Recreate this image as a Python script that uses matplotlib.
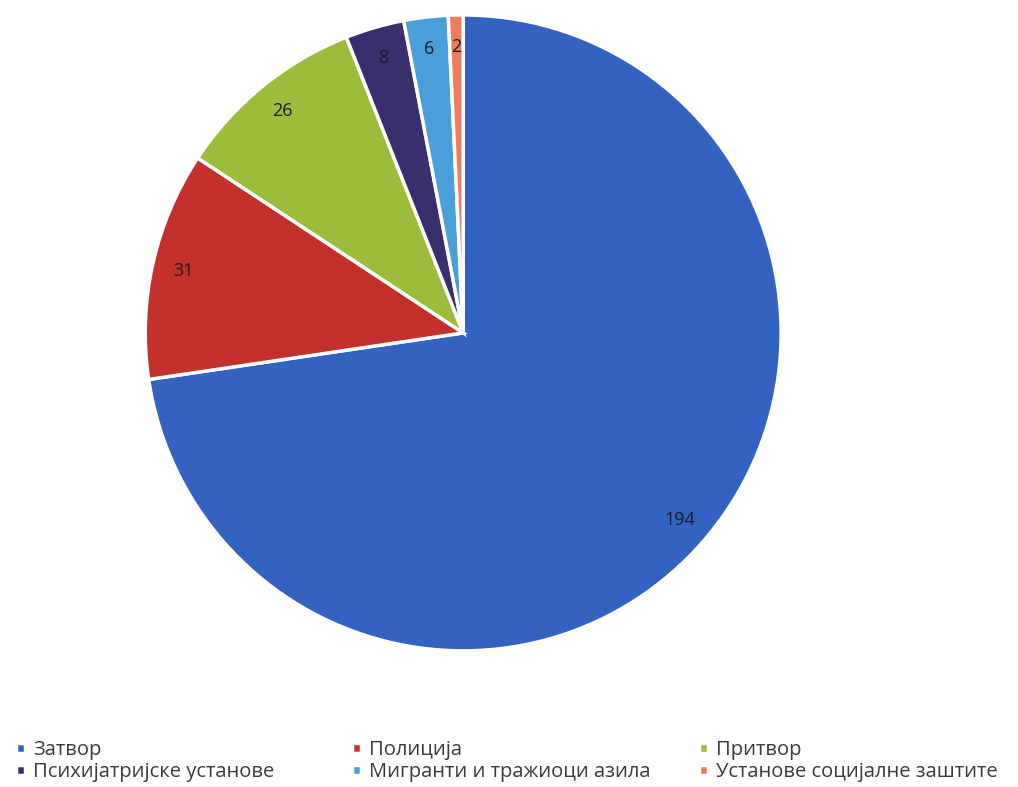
import matplotlib.pyplot as plt

plt.rcParams['font.family'] = ['Open Sans', 'DejaVu Sans']

# Data
categories = ['Затвор', 'Полиција', 'Притвор', 'Психијатријске установе',
              'Мигранти и тражиоци азила', 'Установе социјалне заштите']
values = [194, 31, 26, 8, 6, 2]
colors = ['#3462C0', '#C4302B', '#9CBD3C', '#3A2F6E', '#4A9ED9', '#F07C5C']

total = sum(values)

fig = plt.figure(figsize=(10.18, 7.87), dpi=100)
ax = fig.add_axes([0.1425, 0.173, 0.625, 0.808])

wedges, texts, autotexts = ax.pie(
    values, colors=colors, startangle=90, counterclock=False,
    autopct=lambda p: f'{round(p * total / 100)}', pctdistance=0.9,
    wedgeprops=dict(edgecolor='white', linewidth=2.5),
    textprops=dict(fontsize=13, color='#1a1a2e'))
ax.set_xlim(-1, 1)
ax.set_ylim(-1, 1)
ax.set_aspect('equal')

# three legend columns, two rows each
cols = [[0, 3], [1, 4], [2, 5]]
xpos = [0.002, 0.332, 0.673]
for idx, x in zip(cols, xpos):
    fig.legend([wedges[i] for i in idx], [categories[i] for i in idx],
               loc='lower left', bbox_to_anchor=(x, -0.012), ncol=1,
               frameon=False, fontsize=14.5, handlelength=0.42, handleheight=0.42,
               handletextpad=0.42, labelspacing=0.12, labelcolor='#3a3a3a',
               borderaxespad=0.3)

fig.savefig('out.png', dpi=100)
